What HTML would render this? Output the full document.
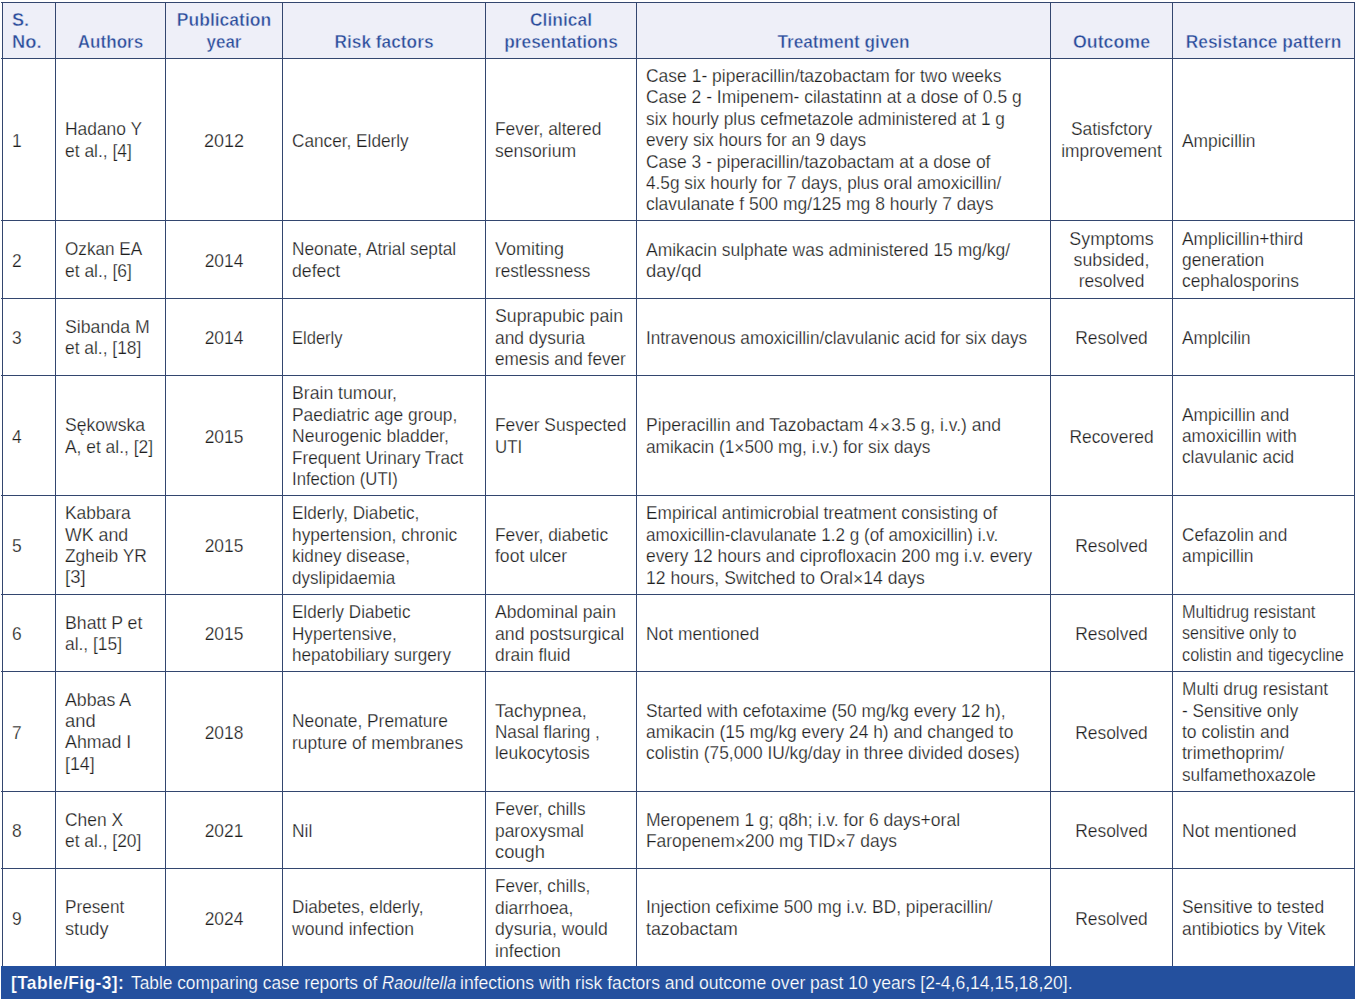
<!DOCTYPE html>
<html><head><meta charset="utf-8"><style>
html,body{margin:0;padding:0;background:#fff;}
body{width:1357px;height:1002px;position:relative;overflow:hidden;font-family:"Liberation Sans",sans-serif;font-size:18.5px;line-height:21.4px;}
.t,.h,.cap{position:absolute;white-space:nowrap;}
.t{color:#1e1e1e;-webkit-text-stroke:0.25px #fff;}
.h{color:#2b4c9b;font-weight:bold;font-size:18.9px;-webkit-text-stroke:0.45px #eeeff8;}
.ln{position:absolute;background:#33466f;}
.bar{position:absolute;background:#24509e;}
.x{position:relative;top:1.5px;}
.cap{color:#fff;-webkit-text-stroke:0.2px #24509e;}
</style></head><body>
<div style="position:absolute;left:2px;top:2px;width:1352px;height:56px;background:#eeeff8"></div>
<div class="h" style="left:12px;top:9.05px;transform:scaleX(0.9600);transform-origin:0 0;">S.</div>
<div class="h" style="left:12px;top:31.05px;transform:scaleX(0.9692);transform-origin:0 0;">No.</div>
<div class="h" style="left:56px;width:109px;top:31.05px;text-align:center;transform:scaleX(0.9030);transform-origin:50% 0;">Authors</div>
<div class="h" style="left:166px;width:116px;top:9.05px;text-align:center;transform:scaleX(0.9273);transform-origin:50% 0;">Publication</div>
<div class="h" style="left:166px;width:116px;top:31.05px;text-align:center;transform:scaleX(0.9000);transform-origin:50% 0;">year</div>
<div class="h" style="left:283px;width:202px;top:31.05px;text-align:center;transform:scaleX(0.9161);transform-origin:50% 0;">Risk factors</div>
<div class="h" style="left:486px;width:150px;top:9.05px;text-align:center;transform:scaleX(0.9217);transform-origin:50% 0;">Clinical</div>
<div class="h" style="left:486px;width:150px;top:31.05px;text-align:center;transform:scaleX(0.9173);transform-origin:50% 0;">presentations</div>
<div class="h" style="left:637px;width:413px;top:31.05px;text-align:center;transform:scaleX(0.9126);transform-origin:50% 0;">Treatment given</div>
<div class="h" style="left:1051px;width:121px;top:31.05px;text-align:center;transform:scaleX(0.9425);transform-origin:50% 0;">Outcome</div>
<div class="h" style="left:1173px;width:181px;top:31.05px;text-align:center;transform:scaleX(0.9204);transform-origin:50% 0;">Resistance pattern</div>
<div class="t" style="left:12px;top:129.69px;transform:scaleX(0.9400);transform-origin:0 0;">1</div>
<div class="t" style="left:65px;top:118.39px;transform:scaleX(0.9400);transform-origin:0 0;">Hadano Y</div>
<div class="t" style="left:65px;top:139.79px;transform:scaleX(0.9431);transform-origin:0 0;">et al., [4]</div>
<div class="t" style="left:166px;width:116px;top:129.69px;text-align:center;transform:scaleX(0.9730);transform-origin:50% 0;">2012</div>
<div class="t" style="left:292px;top:129.54px;transform:scaleX(0.9305);transform-origin:0 0;">Cancer, Elderly</div>
<div class="t" style="left:495px;top:118.34px;transform:scaleX(0.9400);transform-origin:0 0;">Fever, altered</div>
<div class="t" style="left:495px;top:139.74px;transform:scaleX(0.9495);transform-origin:0 0;">sensorium</div>
<div class="t" style="left:646px;top:64.94px;transform:scaleX(0.9448);transform-origin:0 0;">Case 1- piperacillin/tazobactam for two weeks</div>
<div class="t" style="left:646px;top:86.34px;transform:scaleX(0.9440);transform-origin:0 0;">Case 2 - Imipenem- cilastatinn at a dose of 0.5 g</div>
<div class="t" style="left:646px;top:107.74px;transform:scaleX(0.9332);transform-origin:0 0;">six hourly plus cefmetazole administered at 1 g</div>
<div class="t" style="left:646px;top:129.14px;transform:scaleX(0.9307);transform-origin:0 0;">every six hours for an 9 days</div>
<div class="t" style="left:646px;top:150.54px;transform:scaleX(0.9436);transform-origin:0 0;">Case 3 - piperacillin/tazobactam at a dose of</div>
<div class="t" style="left:646px;top:171.94px;transform:scaleX(0.9316);transform-origin:0 0;">4.5g six hourly for 7 days, plus oral amoxicillin/</div>
<div class="t" style="left:646px;top:193.34px;transform:scaleX(0.9441);transform-origin:0 0;">clavulanate f 500 mg/125 mg 8 hourly 7 days</div>
<div class="t" style="left:1051px;width:121px;top:118.34px;text-align:center;transform:scaleX(0.9400);transform-origin:50% 0;">Satisfctory</div>
<div class="t" style="left:1051px;width:121px;top:139.74px;text-align:center;transform:scaleX(0.9400);transform-origin:50% 0;">improvement</div>
<div class="t" style="left:1182px;top:129.54px;transform:scaleX(0.9400);transform-origin:0 0;">Ampicillin</div>
<div class="t" style="left:12px;top:249.54px;transform:scaleX(0.9400);transform-origin:0 0;">2</div>
<div class="t" style="left:65px;top:238.34px;transform:scaleX(0.9255);transform-origin:0 0;">Ozkan EA</div>
<div class="t" style="left:65px;top:259.74px;transform:scaleX(0.9431);transform-origin:0 0;">et al., [6]</div>
<div class="t" style="left:166px;width:116px;top:249.79px;text-align:center;transform:scaleX(0.9400);transform-origin:50% 0;">2014</div>
<div class="t" style="left:292px;top:238.34px;transform:scaleX(0.9332);transform-origin:0 0;">Neonate, Atrial septal</div>
<div class="t" style="left:292px;top:259.74px;transform:scaleX(0.9560);transform-origin:0 0;">defect</div>
<div class="t" style="left:495px;top:238.34px;transform:scaleX(0.9714);transform-origin:0 0;">Vomiting</div>
<div class="t" style="left:495px;top:259.74px;transform:scaleX(0.9282);transform-origin:0 0;">restlessness</div>
<div class="t" style="left:646px;top:238.59px;transform:scaleX(0.9442);transform-origin:0 0;">Amikacin sulphate was administered 15 mg/kg/</div>
<div class="t" style="left:646px;top:259.99px;transform:scaleX(0.9990);transform-origin:0 0;">day/qd</div>
<div class="t" style="left:1051px;width:121px;top:227.64px;text-align:center;transform:scaleX(0.9659);transform-origin:50% 0;">Symptoms</div>
<div class="t" style="left:1051px;width:121px;top:249.04px;text-align:center;transform:scaleX(0.9570);transform-origin:50% 0;">subsided,</div>
<div class="t" style="left:1051px;width:121px;top:270.44px;text-align:center;transform:scaleX(0.9400);transform-origin:50% 0;">resolved</div>
<div class="t" style="left:1182px;top:227.64px;transform:scaleX(0.9400);transform-origin:0 0;">Amplicillin+third</div>
<div class="t" style="left:1182px;top:249.04px;transform:scaleX(0.9400);transform-origin:0 0;">generation</div>
<div class="t" style="left:1182px;top:270.44px;transform:scaleX(0.9400);transform-origin:0 0;">cephalosporins</div>
<div class="t" style="left:12px;top:327.04px;transform:scaleX(0.9400);transform-origin:0 0;">3</div>
<div class="t" style="left:65px;top:315.84px;transform:scaleX(0.9572);transform-origin:0 0;">Sibanda M</div>
<div class="t" style="left:65px;top:337.24px;transform:scaleX(0.9400);transform-origin:0 0;">et al., [18]</div>
<div class="t" style="left:166px;width:116px;top:326.79px;text-align:center;transform:scaleX(0.9400);transform-origin:50% 0;">2014</div>
<div class="t" style="left:292px;top:327.04px;transform:scaleX(0.8939);transform-origin:0 0;">Elderly</div>
<div class="t" style="left:495px;top:305.14px;transform:scaleX(0.9581);transform-origin:0 0;">Suprapubic pain</div>
<div class="t" style="left:495px;top:326.54px;transform:scaleX(0.9400);transform-origin:0 0;">and dysuria</div>
<div class="t" style="left:495px;top:347.94px;transform:scaleX(0.9286);transform-origin:0 0;">emesis and fever</div>
<div class="t" style="left:646px;top:327.04px;transform:scaleX(0.9268);transform-origin:0 0;">Intravenous amoxicillin/clavulanic acid for six days</div>
<div class="t" style="left:1051px;width:121px;top:327.04px;text-align:center;transform:scaleX(0.9400);transform-origin:50% 0;">Resolved</div>
<div class="t" style="left:1182px;top:327.04px;transform:scaleX(0.9266);transform-origin:0 0;">Amplcilin</div>
<div class="t" style="left:12px;top:425.54px;transform:scaleX(0.9400);transform-origin:0 0;">4</div>
<div class="t" style="left:65px;top:414.34px;transform:scaleX(0.9495);transform-origin:0 0;">S&#281;kowska</div>
<div class="t" style="left:65px;top:435.74px;transform:scaleX(0.9400);transform-origin:0 0;">A, et al., [2]</div>
<div class="t" style="left:166px;width:116px;top:425.54px;text-align:center;transform:scaleX(0.9400);transform-origin:50% 0;">2015</div>
<div class="t" style="left:292px;top:382.44px;transform:scaleX(0.9538);transform-origin:0 0;">Brain tumour,</div>
<div class="t" style="left:292px;top:403.84px;transform:scaleX(0.9400);transform-origin:0 0;">Paediatric age group,</div>
<div class="t" style="left:292px;top:425.24px;transform:scaleX(0.9473);transform-origin:0 0;">Neurogenic bladder,</div>
<div class="t" style="left:292px;top:446.64px;transform:scaleX(0.9254);transform-origin:0 0;">Frequent Urinary Tract</div>
<div class="t" style="left:292px;top:468.04px;transform:scaleX(0.9029);transform-origin:0 0;">Infection (UTI)</div>
<div class="t" style="left:495px;top:414.34px;transform:scaleX(0.9400);transform-origin:0 0;">Fever Suspected</div>
<div class="t" style="left:495px;top:435.74px;transform:scaleX(0.9087);transform-origin:0 0;">UTI</div>
<div class="t" style="left:646px;top:414.34px;transform:scaleX(0.9459);transform-origin:0 0;">Piperacillin and Tazobactam 4&#8202;<span class='x'>&times;</span>&#8202;3.5 g, i.v.) and</div>
<div class="t" style="left:646px;top:435.74px;transform:scaleX(0.9341);transform-origin:0 0;">amikacin (1<span class='x'>&times;</span>500 mg, i.v.) for six days</div>
<div class="t" style="left:1051px;width:121px;top:425.54px;text-align:center;transform:scaleX(0.9400);transform-origin:50% 0;">Recovered</div>
<div class="t" style="left:1182px;top:403.64px;transform:scaleX(0.9400);transform-origin:0 0;">Ampicillin and</div>
<div class="t" style="left:1182px;top:425.04px;transform:scaleX(0.9302);transform-origin:0 0;">amoxicillin with</div>
<div class="t" style="left:1182px;top:446.44px;transform:scaleX(0.9324);transform-origin:0 0;">clavulanic acid</div>
<div class="t" style="left:12px;top:535.04px;transform:scaleX(0.9400);transform-origin:0 0;">5</div>
<div class="t" style="left:65px;top:502.29px;transform:scaleX(0.9400);transform-origin:0 0;">Kabbara</div>
<div class="t" style="left:65px;top:523.69px;transform:scaleX(0.9600);transform-origin:0 0;">WK and</div>
<div class="t" style="left:65px;top:545.09px;transform:scaleX(0.9400);transform-origin:0 0;">Zgheib YR</div>
<div class="t" style="left:65px;top:566.49px;transform:scaleX(1.0027);transform-origin:0 0;">[3]</div>
<div class="t" style="left:166px;width:116px;top:535.04px;text-align:center;transform:scaleX(0.9400);transform-origin:50% 0;">2015</div>
<div class="t" style="left:292px;top:502.44px;transform:scaleX(0.9268);transform-origin:0 0;">Elderly, Diabetic,</div>
<div class="t" style="left:292px;top:523.84px;transform:scaleX(0.9400);transform-origin:0 0;">hypertension, chronic</div>
<div class="t" style="left:292px;top:545.24px;transform:scaleX(0.9257);transform-origin:0 0;">kidney disease,</div>
<div class="t" style="left:292px;top:566.64px;transform:scaleX(0.9212);transform-origin:0 0;">dyslipidaemia</div>
<div class="t" style="left:495px;top:523.84px;transform:scaleX(0.9400);transform-origin:0 0;">Fever, diabetic</div>
<div class="t" style="left:495px;top:545.24px;transform:scaleX(0.9480);transform-origin:0 0;">foot ulcer</div>
<div class="t" style="left:646px;top:502.44px;transform:scaleX(0.9334);transform-origin:0 0;">Empirical antimicrobial treatment consisting of</div>
<div class="t" style="left:646px;top:523.84px;transform:scaleX(0.9216);transform-origin:0 0;">amoxicillin-clavulanate 1.2 g (of amoxicillin) i.v.</div>
<div class="t" style="left:646px;top:545.24px;transform:scaleX(0.9400);transform-origin:0 0;">every 12 hours and ciprofloxacin 200 mg i.v. every</div>
<div class="t" style="left:646px;top:566.64px;transform:scaleX(0.9496);transform-origin:0 0;">12 hours, Switched to Oral<span class='x'>&times;</span>14 days</div>
<div class="t" style="left:1051px;width:121px;top:535.04px;text-align:center;transform:scaleX(0.9400);transform-origin:50% 0;">Resolved</div>
<div class="t" style="left:1182px;top:523.84px;transform:scaleX(0.9302);transform-origin:0 0;">Cefazolin and</div>
<div class="t" style="left:1182px;top:545.24px;transform:scaleX(0.9400);transform-origin:0 0;">ampicillin</div>
<div class="t" style="left:12px;top:623.04px;transform:scaleX(0.9400);transform-origin:0 0;">6</div>
<div class="t" style="left:65px;top:611.84px;transform:scaleX(0.9561);transform-origin:0 0;">Bhatt P et</div>
<div class="t" style="left:65px;top:633.24px;transform:scaleX(0.9400);transform-origin:0 0;">al., [15]</div>
<div class="t" style="left:166px;width:116px;top:622.79px;text-align:center;transform:scaleX(0.9400);transform-origin:50% 0;">2015</div>
<div class="t" style="left:292px;top:601.14px;transform:scaleX(0.9212);transform-origin:0 0;">Elderly Diabetic</div>
<div class="t" style="left:292px;top:622.54px;transform:scaleX(0.9257);transform-origin:0 0;">Hypertensive,</div>
<div class="t" style="left:292px;top:643.94px;transform:scaleX(0.9260);transform-origin:0 0;">hepatobiliary surgery</div>
<div class="t" style="left:495px;top:601.14px;transform:scaleX(0.9479);transform-origin:0 0;">Abdominal pain</div>
<div class="t" style="left:495px;top:622.54px;transform:scaleX(0.9594);transform-origin:0 0;">and postsurgical</div>
<div class="t" style="left:495px;top:643.94px;transform:scaleX(0.9400);transform-origin:0 0;">drain fluid</div>
<div class="t" style="left:646px;top:623.04px;transform:scaleX(0.9400);transform-origin:0 0;">Not mentioned</div>
<div class="t" style="left:1051px;width:121px;top:623.04px;text-align:center;transform:scaleX(0.9400);transform-origin:50% 0;">Resolved</div>
<div class="t" style="left:1182px;top:600.79px;transform:scaleX(0.8817);transform-origin:0 0;">Multidrug resistant</div>
<div class="t" style="left:1182px;top:622.19px;transform:scaleX(0.8697);transform-origin:0 0;">sensitive only to</div>
<div class="t" style="left:1182px;top:643.59px;transform:scaleX(0.8795);transform-origin:0 0;">colistin and tigecycline</div>
<div class="t" style="left:12px;top:721.54px;transform:scaleX(0.9400);transform-origin:0 0;">7</div>
<div class="t" style="left:65px;top:688.69px;transform:scaleX(0.9588);transform-origin:0 0;">Abbas A</div>
<div class="t" style="left:65px;top:710.09px;transform:scaleX(0.9904);transform-origin:0 0;">and</div>
<div class="t" style="left:65px;top:731.49px;transform:scaleX(0.9624);transform-origin:0 0;">Ahmad I</div>
<div class="t" style="left:65px;top:752.89px;transform:scaleX(0.9635);transform-origin:0 0;">[14]</div>
<div class="t" style="left:166px;width:116px;top:721.54px;text-align:center;transform:scaleX(0.9400);transform-origin:50% 0;">2018</div>
<div class="t" style="left:292px;top:710.34px;transform:scaleX(0.9358);transform-origin:0 0;">Neonate, Premature</div>
<div class="t" style="left:292px;top:731.74px;transform:scaleX(0.9400);transform-origin:0 0;">rupture of membranes</div>
<div class="t" style="left:495px;top:699.64px;transform:scaleX(0.9692);transform-origin:0 0;">Tachypnea,</div>
<div class="t" style="left:495px;top:721.04px;transform:scaleX(0.9257);transform-origin:0 0;">Nasal flaring ,</div>
<div class="t" style="left:495px;top:742.44px;transform:scaleX(0.9400);transform-origin:0 0;">leukocytosis</div>
<div class="t" style="left:646px;top:699.64px;transform:scaleX(0.9400);transform-origin:0 0;">Started with cefotaxime (50 mg/kg every 12 h),</div>
<div class="t" style="left:646px;top:721.04px;transform:scaleX(0.9400);transform-origin:0 0;">amikacin (15 mg/kg every 24 h) and changed to</div>
<div class="t" style="left:646px;top:742.44px;transform:scaleX(0.9370);transform-origin:0 0;">colistin (75,000 IU/kg/day in three divided doses)</div>
<div class="t" style="left:1051px;width:121px;top:721.54px;text-align:center;transform:scaleX(0.9400);transform-origin:50% 0;">Resolved</div>
<div class="t" style="left:1182px;top:678.24px;transform:scaleX(0.9349);transform-origin:0 0;">Multi drug resistant</div>
<div class="t" style="left:1182px;top:699.64px;transform:scaleX(0.9273);transform-origin:0 0;">- Sensitive only</div>
<div class="t" style="left:1182px;top:721.04px;transform:scaleX(0.9472);transform-origin:0 0;">to colistin and</div>
<div class="t" style="left:1182px;top:742.44px;transform:scaleX(0.9465);transform-origin:0 0;">trimethoprim/</div>
<div class="t" style="left:1182px;top:763.84px;transform:scaleX(0.9296);transform-origin:0 0;">sulfamethoxazole</div>
<div class="t" style="left:12px;top:820.04px;transform:scaleX(0.9400);transform-origin:0 0;">8</div>
<div class="t" style="left:65px;top:808.84px;transform:scaleX(0.9400);transform-origin:0 0;">Chen X</div>
<div class="t" style="left:65px;top:830.24px;transform:scaleX(0.9400);transform-origin:0 0;">et al., [20]</div>
<div class="t" style="left:166px;width:116px;top:820.04px;text-align:center;transform:scaleX(0.9400);transform-origin:50% 0;">2021</div>
<div class="t" style="left:292px;top:820.04px;transform:scaleX(0.9400);transform-origin:0 0;">Nil</div>
<div class="t" style="left:495px;top:798.14px;transform:scaleX(0.9266);transform-origin:0 0;">Fever, chills</div>
<div class="t" style="left:495px;top:819.54px;transform:scaleX(0.9400);transform-origin:0 0;">paroxysmal</div>
<div class="t" style="left:495px;top:840.94px;transform:scaleX(0.9911);transform-origin:0 0;">cough</div>
<div class="t" style="left:646px;top:808.84px;transform:scaleX(0.9479);transform-origin:0 0;">Meropenem 1 g; q8h; i.v. for 6 days+oral</div>
<div class="t" style="left:646px;top:830.24px;transform:scaleX(0.9400);transform-origin:0 0;">Faropenem<span class='x'>&times;</span>200 mg TID<span class='x'>&times;</span>7 days</div>
<div class="t" style="left:1051px;width:121px;top:820.04px;text-align:center;transform:scaleX(0.9400);transform-origin:50% 0;">Resolved</div>
<div class="t" style="left:1182px;top:820.04px;transform:scaleX(0.9509);transform-origin:0 0;">Not mentioned</div>
<div class="t" style="left:12px;top:907.54px;transform:scaleX(0.9400);transform-origin:0 0;">9</div>
<div class="t" style="left:65px;top:896.34px;transform:scaleX(0.9290);transform-origin:0 0;">Present</div>
<div class="t" style="left:65px;top:917.74px;transform:scaleX(0.9859);transform-origin:0 0;">study</div>
<div class="t" style="left:166px;width:116px;top:907.54px;text-align:center;transform:scaleX(0.9400);transform-origin:50% 0;">2024</div>
<div class="t" style="left:292px;top:896.34px;transform:scaleX(0.9286);transform-origin:0 0;">Diabetes, elderly,</div>
<div class="t" style="left:292px;top:917.74px;transform:scaleX(0.9494);transform-origin:0 0;">wound infection</div>
<div class="t" style="left:495px;top:875.39px;transform:scaleX(0.9262);transform-origin:0 0;">Fever, chills,</div>
<div class="t" style="left:495px;top:896.79px;transform:scaleX(0.9400);transform-origin:0 0;">diarrhoea,</div>
<div class="t" style="left:495px;top:918.19px;transform:scaleX(0.9537);transform-origin:0 0;">dysuria, would</div>
<div class="t" style="left:495px;top:939.59px;transform:scaleX(0.9547);transform-origin:0 0;">infection</div>
<div class="t" style="left:646px;top:896.34px;transform:scaleX(0.9370);transform-origin:0 0;">Injection cefixime 500 mg i.v. BD, piperacillin/</div>
<div class="t" style="left:646px;top:917.74px;transform:scaleX(0.9601);transform-origin:0 0;">tazobactam</div>
<div class="t" style="left:1051px;width:121px;top:907.54px;text-align:center;transform:scaleX(0.9400);transform-origin:50% 0;">Resolved</div>
<div class="t" style="left:1182px;top:896.34px;transform:scaleX(0.9400);transform-origin:0 0;">Sensitive to tested</div>
<div class="t" style="left:1182px;top:917.74px;transform:scaleX(0.9387);transform-origin:0 0;">antibiotics by Vitek</div>
<div class="ln" style="left:1px;top:2px;width:1354px;height:1px"></div>
<div class="ln" style="left:1px;top:58px;width:1354px;height:1px"></div>
<div class="ln" style="left:1px;top:220px;width:1354px;height:1px"></div>
<div class="ln" style="left:1px;top:298px;width:1354px;height:1px"></div>
<div class="ln" style="left:1px;top:375px;width:1354px;height:1px"></div>
<div class="ln" style="left:1px;top:495px;width:1354px;height:1px"></div>
<div class="ln" style="left:1px;top:594px;width:1354px;height:1px"></div>
<div class="ln" style="left:1px;top:671px;width:1354px;height:1px"></div>
<div class="ln" style="left:1px;top:791px;width:1354px;height:1px"></div>
<div class="ln" style="left:1px;top:868px;width:1354px;height:1px"></div>
<div class="ln" style="left:2px;top:2px;width:1px;height:964px"></div>
<div class="ln" style="left:55px;top:2px;width:1px;height:964px"></div>
<div class="ln" style="left:165px;top:2px;width:1px;height:964px"></div>
<div class="ln" style="left:282px;top:2px;width:1px;height:964px"></div>
<div class="ln" style="left:485px;top:2px;width:1px;height:964px"></div>
<div class="ln" style="left:636px;top:2px;width:1px;height:964px"></div>
<div class="ln" style="left:1050px;top:2px;width:1px;height:964px"></div>
<div class="ln" style="left:1172px;top:2px;width:1px;height:964px"></div>
<div class="ln" style="left:1354px;top:2px;width:1px;height:964px"></div>
<div class="bar" style="left:1px;top:966px;width:1354px;height:33px"></div>
<div class="cap" style="left:11px;top:972.06px;font-weight:bold;font-size:18.6px;transform:scaleX(0.9350);transform-origin:0 0;letter-spacing:0.4px">[Table/Fig-3]:</div>
<div class="cap" style="left:131.0px;top:972.06px;font-size:18.6px;transform:scaleX(0.9308);transform-origin:0 0;">Table comparing case reports of</div>
<div class="cap" style="left:382.0px;top:972.06px;font-size:18.6px;transform:scaleX(0.8968);transform-origin:0 0;"><i>Raoultella</i></div>
<div class="cap" style="left:460.4px;top:972.06px;font-size:18.6px;transform:scaleX(0.9437);transform-origin:0 0;">infections with risk factors and outcome over past 10 years [2-4,6,14,15,18,20].</div>
</body></html>
